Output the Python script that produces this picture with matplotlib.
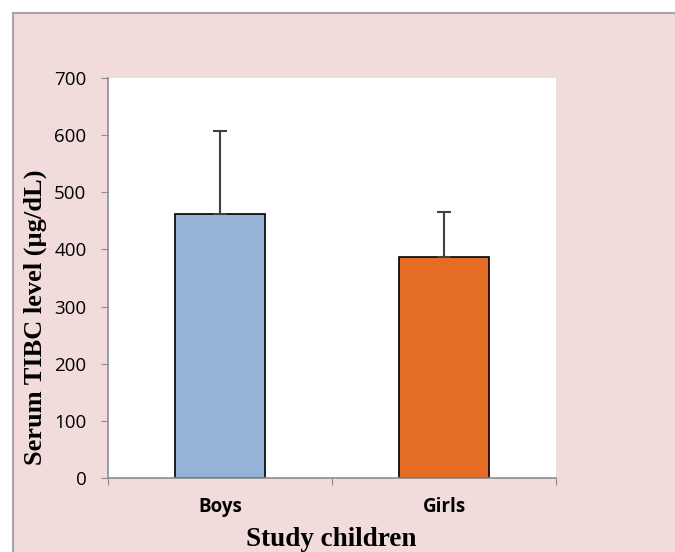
import matplotlib.pyplot as plt
from matplotlib.patches import Rectangle
import numpy as np

groups = ['Boys', 'Girls']
means = [462, 386]
sd_upper = [145, 80]
bar_colors = ['#95B3D7', '#E46C25']
yticks = [0, 100, 200, 300, 400, 500, 600, 700]

W, H = 675, 552
fig = plt.figure(figsize=(W / 100, H / 100), dpi=100, facecolor='white')

# pink chart area with grey border
bg = Rectangle((13 / W, -0.1), 1.2, (552 - 13) / H + 0.1, transform=fig.transFigure,
               facecolor='#F2DCDB', edgecolor='#A6A6A6', lw=1.5, zorder=-10)
fig.patches.append(bg)

ax = fig.add_axes((108 / W, (H - 478) / H, 448 / W, 400 / H))
ax.set_facecolor('white')

x = np.arange(len(groups))
ax.bar(x, means, width=0.4, color=bar_colors, edgecolor='black', lw=1.2, zorder=2)
ax.errorbar(x, means, yerr=[np.zeros(len(means)), sd_upper], fmt='none',
            ecolor='#404040', elinewidth=1.5, capsize=5, capthick=1.5, zorder=3)

ax.set_xlim(-0.5, 1.5)
ax.set_ylim(0, 700)
ax.set_yticks(yticks)
ax.set_yticklabels([str(t) for t in yticks], fontsize=13.5, family='Open Sans')

# category boundary ticks on x axis, labels centered under bars
ax.set_xticks([-0.5, 0.5, 1.5])
ax.set_xticklabels([])
ax.set_xticks(x, minor=True)
ax.set_xticklabels(groups, minor=True, fontsize=13.5, fontweight='bold', family='Open Sans')
ax.tick_params(axis='x', which='minor', length=0, pad=14)
ax.tick_params(axis='x', which='major', length=5, color='#8C8C8C', direction='out')
ax.tick_params(axis='y', length=5, color='#8C8C8C', direction='out', pad=10.5)

ax.spines[['top', 'right']].set_visible(False)
ax.spines['left'].set_color('#8C8C8C')
ax.spines['bottom'].set_color('#8C8C8C')
ax.spines['left'].set_linewidth(1.2)
ax.spines['bottom'].set_linewidth(1.2)

fig.text(35 / W, 1 - 317 / H, 'Serum TIBC level (µg/dL)', rotation=90,
         ha='center', va='center', fontsize=19, fontweight='bold', family='Liberation Serif')
fig.text(331 / W, 1 - 540 / H, 'Study children', ha='center', va='center',
         fontsize=19.5, fontweight='bold', family='Liberation Serif')

plt.savefig('out.png', dpi=100, facecolor=fig.get_facecolor())
